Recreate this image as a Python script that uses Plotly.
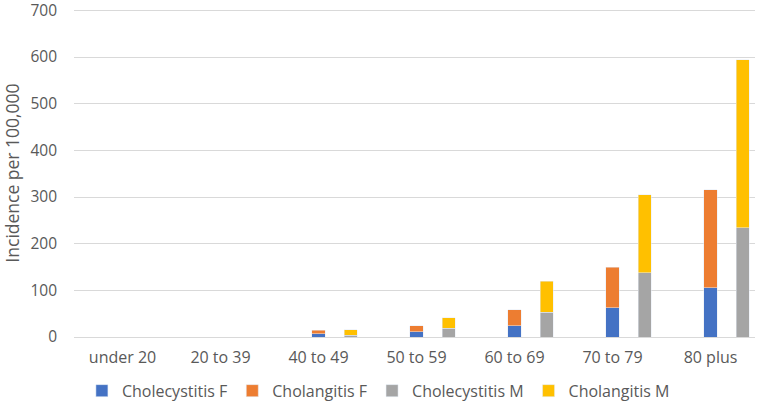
import plotly.graph_objects as go

categories = ["under 20", "20 to 39", "40 to 49", "50 to 59", "60 to 69", "70 to 79", "80 plus"]
cholecystitis_f = [0, 0, 7, 11, 24, 63, 106]
cholangitis_f = [0, 0, 8, 13, 34, 87, 210]
cholecystitis_m = [0, 0, 4, 19, 53, 138, 234]
cholangitis_m = [0, 0, 12, 22, 67, 167, 360]

colors = {"cf": "#4472C4", "af": "#ED7D31", "cm": "#A5A5A5", "am": "#FFC000"}

idx = list(range(len(categories)))
gap = 0.327
bar_w = 0.133
x_f = [i for i in idx]
x_m = [i + gap for i in idx]

fig = go.Figure()
fig.add_trace(go.Bar(x=x_f, y=cholecystitis_f, name="Cholecystitis F", marker_color=colors["cf"], width=bar_w))
fig.add_trace(go.Bar(x=x_f, y=cholangitis_f, name="Cholangitis F", marker_color=colors["af"], width=bar_w))
fig.add_trace(go.Bar(x=x_m, y=cholecystitis_m, name="Cholecystitis M", marker_color=colors["cm"], width=bar_w))
fig.add_trace(go.Bar(x=x_m, y=cholangitis_m, name="Cholangitis M", marker_color=colors["am"], width=bar_w))

tc = "#595959"
font = dict(family="'Open Sans', sans-serif", size=16, color=tc)

fig.update_layout(
    barmode="stack",
    width=762, height=414,
    margin=dict(l=74, r=7, t=9, b=77, autoexpand=False),
    paper_bgcolor="white", plot_bgcolor="white",
    font=font,
    showlegend=True,
    legend=dict(orientation="h", x=0.447, xanchor="center", y=-0.112, yanchor="top",
                font=dict(size=16, color=tc), traceorder="normal",
                itemwidth=30, tracegroupgap=0),
    xaxis=dict(range=[-0.495, 6.454], tickvals=idx, ticktext=categories, automargin=False,
               showgrid=False, zeroline=False, showline=False, ticks="",
               ticklabelstandoff=9,
               tickfont=dict(size=16, color=tc)),
    yaxis=dict(range=[0, 703], tickvals=[0, 100, 200, 300, 400, 500, 600, 700],
               showgrid=True, gridcolor="#D9D9D9", gridwidth=1,
               automargin=False, ticklabeloverflow="allow",
               zeroline=True, zerolinecolor="#D9D9D9", zerolinewidth=1, showline=False,
               ticks="", ticklabelstandoff=16,
               title=dict(text="Incidence per 100,000", font=dict(size=17.5, color=tc), standoff=20),
               tickfont=dict(size=15.5, color=tc)),
)

fig.write_html("out.html", config={"displayModeBar": False},
               post_script="document.body.style.margin='0';")
